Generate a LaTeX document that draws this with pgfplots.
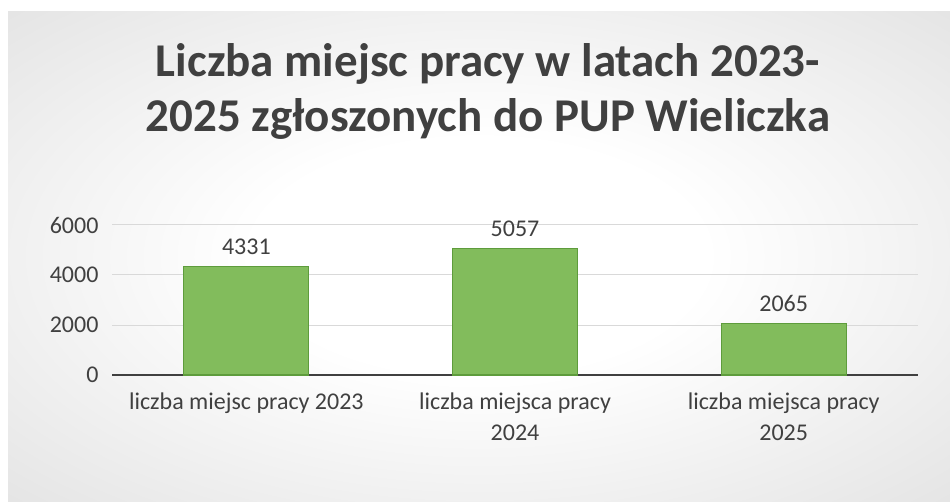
\documentclass[border=0pt]{standalone}
\usepackage{pgfplots}
\pgfplotsset{compat=1.18}
\usepackage{fontspec}
\setmainfont{Carlito}
\definecolor{txt}{HTML}{404040}
\definecolor{barfill}{HTML}{82BC5C}
\definecolor{bardraw}{HTML}{5E9C3C}
\definecolor{gridc}{HTML}{D9D9D9}
\definecolor{bgout}{HTML}{BDBDBD}
\pgfdeclareradialshading{bgshade}{\pgfpoint{0bp}{0bp}}{color(0bp)=(white); color(12bp)=(white); color(71bp)=(bgout)}
\begin{document}
\begin{tikzpicture}
\useasboundingbox (0pt,0pt) rectangle (950pt,501pt);
\fill[white] (0pt,0pt) rectangle (950pt,501pt);
\shade[shading=bgshade] (8pt,0pt) rectangle (950pt,489pt);
\node[anchor=north, align=center, inner sep=0pt, text=txt, font=\fontsize{47}{55}\selectfont\bfseries] at (488pt,458pt) {Liczba miejsc pracy w latach 2023-\\2025 zgłoszonych do PUP Wieliczka};
\begin{axis}[
  at={(112pt,126pt)}, anchor=south west, scale only axis,
  width=806pt, height=150pt,
  ymin=0, ymax=6000, xmin=-0.5, xmax=2.5,
  ybar, bar width=125pt,
  ytick={0,2000,4000,6000},
  yticklabels={0,2000,4000,6000},
  xtick={0,1,2},
  xticklabels={liczba miejsc pracy 2023, liczba miejsca pracy\\2024, liczba miejsca pracy\\2025},
  axis line style={draw=none},
  major tick length=0pt,
  ymajorgrids, grid style={gridc, line width=1pt},
  extra y ticks={0}, extra y tick labels={},
  extra y tick style={grid style={draw=txt, line width=2.5pt}},
  tick label style={text=txt, font=\fontsize{24}{31}\selectfont},
  yticklabel style={xshift=-10pt},
  xticklabel style={align=center, yshift=-14pt},
  /pgf/number format/1000 sep={},
  /pgf/number format/assume math mode=true,
  nodes near coords,
  nodes near coords style={text=txt, font=\fontsize{24}{31}\selectfont, yshift=8pt},
  clip=false,
]
\addplot[fill=barfill, draw=bardraw, line width=1.2pt] coordinates {(0,4331) (1,5057) (2,2065)};
\end{axis}
\end{tikzpicture}
\end{document}
